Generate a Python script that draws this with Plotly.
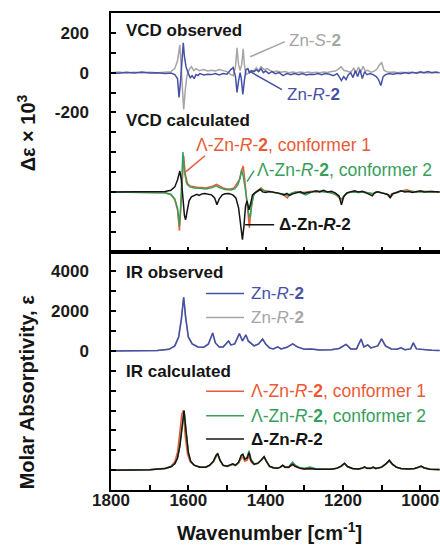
import plotly.graph_objects as go

# ---------------- data ----------------
# VCD observed, Zn-R-2 (blue)
vcd_obs_R_w = [1800,1780,1760,1740,1720,1700,1680,1660,1645,1635,1628,1624,1620,1616,1613,1610,1606,1600,1595,1590,1585,1580,1575,1570,1560,1550,1540,1530,1520,1510,1500,1490,1484,1478,1474,1470,1466,1463,1459,1455,1451,1446,1442,1436,1430,1424,1418,1412,1406,1400,1392,1384,1375,1365,1355,1345,1335,1325,1315,1305,1295,1285,1275,1265,1255,1245,1235,1225,1215,1210,1204,1198,1192,1186,1180,1174,1168,1162,1156,1150,1144,1138,1130,1122,1114,1108,1102,1096,1090,1080,1070,1060,1050,1040,1030,1020,1010,1000,990,980,970,960,950]
vcd_obs_R_v = [0,-3,2,-2,3,-2,0,-4,-2,-10,-30,-125,-40,60,150,80,30,-5,-25,-15,-30,-10,-15,-5,-12,-8,-10,-5,-12,-5,-8,15,25,-20,-100,-40,0,-30,-110,-40,15,20,0,10,5,15,5,20,0,8,-5,5,-5,0,-15,-5,-10,-5,-10,-5,-12,-8,-10,-5,-10,-5,-8,-15,-5,-20,-40,-20,-35,-10,0,-25,10,-20,15,-30,5,-10,-5,-10,-20,-35,-65,-20,-10,-5,-8,-3,-6,0,-4,2,-3,4,-1,5,0,3,0]

# VCD observed, Zn-S-2 (gray)
vcd_obs_S_w = [1800,1780,1760,1740,1720,1700,1680,1660,1645,1635,1628,1622,1618,1615,1612,1608,1604,1598,1592,1586,1580,1572,1560,1550,1540,1530,1520,1510,1500,1490,1484,1478,1474,1470,1466,1462,1458,1455,1451,1446,1440,1432,1424,1418,1412,1404,1396,1388,1380,1370,1360,1350,1340,1330,1320,1310,1300,1290,1280,1270,1260,1250,1240,1230,1220,1212,1205,1198,1190,1180,1172,1166,1160,1154,1148,1142,1136,1128,1120,1112,1106,1100,1094,1088,1078,1068,1058,1048,1038,1028,1018,1008,998,988,978,968,958,950]
vcd_obs_S_v = [0,3,-2,2,-2,2,0,4,5,20,60,140,30,-60,-185,-90,-20,15,30,10,20,10,15,8,12,8,15,10,5,-10,-15,30,125,40,10,40,120,40,-10,-5,10,5,25,10,30,15,20,10,5,8,2,5,0,3,0,3,0,3,0,2,0,3,1,6,8,18,30,12,6,2,22,-2,28,2,32,8,12,2,6,18,38,50,12,5,2,3,0,2,0,2,-1,1,-1,1,-2,1,-1,0]

# VCD calculated (relative to their own baseline)
vcd_calc_D_w = [1800,1700,1660,1645,1635,1628,1622,1618,1614,1610,1607,1603,1598,1592,1585,1578,1572,1565,1558,1550,1540,1532,1526,1520,1512,1505,1495,1485,1477,1470,1465,1460,1456,1452,1448,1443,1439,1434,1428,1420,1414,1408,1400,1390,1380,1370,1360,1352,1345,1338,1330,1320,1310,1300,1292,1280,1270,1260,1250,1240,1230,1220,1210,1204,1198,1190,1180,1170,1160,1150,1140,1130,1124,1118,1110,1100,1090,1082,1078,1072,1060,1050,1040,1030,1020,1010,1000,990,970,950]
vcd_calc_D_v = [0,0,2,8,25,60,105,60,-30,-120,-140,-90,-45,-25,-20,-12,-18,-10,-8,-12,-15,-30,-65,-35,-15,-10,-8,-15,-30,-80,-150,-240,-170,-70,-45,-90,-60,-15,-5,5,12,0,-3,2,0,-5,-10,-15,-8,-18,-10,-5,0,-8,-3,0,5,0,8,0,3,-5,-20,-65,-25,-5,0,5,0,3,-5,-15,-20,-5,0,-5,-10,-15,-30,-10,-3,5,0,2,-3,0,5,0,2,0]

vcd_calc_L1_w = [1800,1700,1660,1645,1635,1628,1623,1620,1616,1612,1608,1602,1595,1585,1575,1565,1555,1545,1535,1527,1520,1510,1500,1490,1482,1475,1468,1462,1458,1454,1450,1446,1442,1438,1432,1425,1418,1412,1405,1395,1385,1375,1362,1352,1344,1338,1328,1318,1305,1292,1280,1268,1255,1245,1230,1218,1210,1204,1198,1188,1175,1160,1145,1130,1122,1115,1100,1088,1080,1074,1060,1045,1035,1025,1010,995,975,950]
vcd_calc_L1_v = [0,-2,-5,-15,-40,-90,-195,-100,40,180,90,40,30,25,22,22,20,25,30,38,30,20,15,15,20,40,60,110,130,60,-20,-100,-180,-90,-20,0,10,20,8,5,0,-5,-10,-18,-30,-15,-5,0,-3,0,3,0,5,0,-5,-15,-30,-40,-20,-5,0,-3,0,-8,-12,0,-5,-10,-25,-10,0,8,10,5,0,3,0,0]

vcd_calc_L2_w = [1800,1700,1660,1645,1635,1628,1623,1620,1617,1614,1610,1604,1596,1585,1570,1555,1540,1528,1520,1505,1490,1480,1472,1466,1462,1458,1453,1448,1444,1440,1436,1430,1420,1412,1404,1390,1375,1360,1350,1342,1335,1322,1310,1296,1290,1280,1265,1250,1235,1220,1208,1202,1195,1185,1170,1150,1130,1122,1110,1095,1085,1078,1070,1058,1040,1020,1000,975,950]
vcd_calc_L2_v = [0,-2,-4,-12,-35,-80,-170,-80,60,200,100,40,25,20,18,15,20,30,22,12,10,15,35,70,110,80,20,-40,-110,-130,-60,-10,5,15,5,0,-3,-8,-12,-20,-8,0,-5,-15,-8,0,3,0,-3,-10,-30,-35,-15,-3,0,-2,-5,-8,0,-5,-12,-30,-10,0,5,2,0,2,0]

# IR observed, Zn-R-2
ir_obs_w = [1800,1680,1650,1635,1625,1618,1612,1607,1600,1590,1575,1560,1548,1537,1530,1520,1510,1500,1496,1490,1480,1468,1460,1451,1445,1430,1418,1408,1400,1390,1380,1369,1360,1345,1330,1318,1300,1283,1260,1230,1210,1192,1180,1165,1153,1146,1136,1128,1110,1100,1090,1075,1060,1050,1040,1025,1018,1010,990,970,950]
ir_obs_v = [0,20,80,250,700,1600,2700,1700,700,350,200,180,350,900,400,200,200,400,500,300,350,870,500,800,500,250,350,600,350,150,100,200,100,180,350,200,80,100,50,60,120,330,100,100,600,200,300,150,250,600,250,100,80,150,60,100,400,100,50,30,20]

# IR calculated
ir_calc_D_w = [1800,1700,1660,1645,1635,1628,1622,1616,1611,1606,1600,1594,1585,1570,1555,1545,1535,1528,1524,1518,1510,1500,1492,1485,1478,1470,1463,1459,1454,1448,1443,1438,1430,1420,1412,1404,1398,1390,1380,1370,1362,1356,1350,1340,1334,1330,1324,1312,1300,1285,1270,1250,1230,1215,1205,1196,1188,1175,1160,1150,1144,1138,1128,1122,1115,1100,1090,1080,1072,1062,1050,1030,1015,1005,998,990,975,950]
ir_calc_D_v = [0,20,80,170,320,600,1200,2300,3000,2000,900,450,250,150,150,250,450,750,840,500,250,200,250,320,250,400,750,800,550,600,880,500,300,350,500,680,450,200,120,100,150,250,150,150,250,300,200,100,60,80,50,40,50,100,200,350,180,80,60,100,160,90,90,150,80,150,300,500,300,150,80,60,80,150,200,120,50,30]

ir_calc_L1_w = [1800,1700,1660,1645,1635,1628,1622,1617,1613,1608,1602,1595,1585,1570,1555,1545,1535,1528,1524,1518,1510,1500,1492,1485,1478,1470,1463,1459,1454,1448,1443,1438,1430,1420,1412,1404,1398,1390,1380,1370,1362,1356,1350,1340,1334,1330,1324,1312,1300,1285,1270,1250,1230,1215,1205,1196,1188,1175,1160,1150,1144,1138,1128,1122,1115,1100,1090,1080,1072,1062,1050,1030,1015,1005,998,990,975,950]
ir_calc_L1_v = [0,25,90,200,420,900,1900,2800,3000,1700,800,420,250,150,140,230,420,700,800,480,230,180,220,280,230,350,600,650,450,500,700,420,280,330,480,650,430,180,110,90,140,220,130,130,220,260,180,90,50,70,45,35,45,90,180,320,160,70,50,90,140,80,80,130,70,140,280,450,280,140,70,50,70,130,180,100,45,25]

ir_calc_L2_w = [1800,1700,1660,1645,1635,1628,1622,1616,1611,1606,1600,1594,1585,1570,1555,1545,1535,1528,1524,1518,1510,1500,1492,1485,1478,1470,1463,1459,1454,1448,1443,1438,1430,1420,1412,1404,1398,1390,1380,1370,1362,1356,1350,1340,1334,1330,1324,1312,1300,1285,1270,1250,1230,1215,1205,1196,1188,1175,1160,1150,1144,1138,1128,1122,1115,1100,1090,1080,1072,1062,1050,1030,1015,1005,998,990,975,950]
ir_calc_L2_v = [0,20,80,170,330,620,1250,2350,3000,1950,880,440,250,150,150,240,440,730,820,490,240,190,240,300,240,380,720,780,560,650,980,550,320,340,480,660,440,190,120,100,150,250,160,170,320,400,260,130,100,150,70,40,50,100,190,330,170,80,60,100,150,90,90,150,80,150,290,480,290,150,80,60,80,140,190,110,50,30]

# axis ticks / offsets
x_tick_vals = [1800, 1600, 1400, 1200, 1000]
x_tick_text = ["1800", "1600", "1400", "1200", "1000"]
vcd_tick_vals = [-200, 0, 200]
vcd_tick_text = ["-200", "0", "200"]
ir_tick_vals = [0, 2000, 4000]
ir_tick_text = ["0", "2000", "4000"]
VCD_CALC_OFFSET = -600
IR_CALC_OFFSET = -6000

# ---------------- styling ----------------
BLUE = "#4650a6"
GRAY = "#a5a5a5"
RED = "#ea5a36"
GREEN = "#36a05a"
BLACK = "#151515"
FONT = "Liberation Sans, Arial, sans-serif"
LW = 1.5

fig = go.Figure()

def add(w, v, color, yaxis, offset=0):
    fig.add_trace(go.Scatter(
        x=w, y=[val + offset for val in v], mode="lines",
        line=dict(color=color, width=LW), xaxis="x" if yaxis == "y" else "x2",
        yaxis=yaxis, showlegend=False, hoverinfo="skip"))

# VCD
add(vcd_obs_S_w, vcd_obs_S_v, GRAY, "y")
add(vcd_obs_R_w, vcd_obs_R_v, BLUE, "y")
add(vcd_calc_L1_w, vcd_calc_L1_v, RED, "y", VCD_CALC_OFFSET)
add(vcd_calc_L2_w, vcd_calc_L2_v, GREEN, "y", VCD_CALC_OFFSET)
add(vcd_calc_D_w, vcd_calc_D_v, BLACK, "y", VCD_CALC_OFFSET)
# IR
add(ir_obs_w, ir_obs_v, GRAY, "y2")
add(ir_obs_w, ir_obs_v, BLUE, "y2")
add(ir_calc_L1_w, ir_calc_L1_v, RED, "y2", IR_CALC_OFFSET)
add(ir_calc_L2_w, ir_calc_L2_v, GREEN, "y2", IR_CALC_OFFSET)
add(ir_calc_D_w, ir_calc_D_v, BLACK, "y2", IR_CALC_OFFSET)

axis_common = dict(showline=True, linecolor="black", linewidth=1.5, ticks="inside",
                   ticklen=5, tickwidth=1.5, tickcolor="black", showgrid=False, zeroline=False,
                   tickfont=dict(family=FONT, size=17, color="#1a1a1a", weight="bold"))

x_range = [1800, 949]
fig.update_layout(
    width=440, height=546,
    margin=dict(l=111, r=0, t=13, b=56),
    paper_bgcolor="white", plot_bgcolor="white",
    xaxis=dict(axis_common, domain=[0, 1], anchor="y", range=x_range, mirror=True,
               tickmode="array", tickvals=x_tick_vals, ticktext=x_tick_text,
               showticklabels=False,
               minor=dict(tickmode="linear", tick0=1000, dtick=100, ticks="inside",
                          ticklen=5, tickwidth=1.5, tickcolor="black")),
    xaxis2=dict(axis_common, domain=[0, 1], anchor="y2", range=x_range, mirror=True,
                tickmode="array", tickvals=x_tick_vals, ticktext=x_tick_text,
                ticklabelstandoff=-6,
                minor=dict(tickmode="linear", tick0=1000, dtick=100, ticks="inside",
                           ticklen=5, tickwidth=1.5, tickcolor="black")),
    yaxis=dict(axis_common, domain=[0.5, 1], anchor="x", range=[-900, 300],
               tickmode="array", tickvals=vcd_tick_vals, ticktext=vcd_tick_text,
               ticklabelstandoff=17,
               minor=dict(tickmode="linear", tick0=0, dtick=100, ticks="inside",
                          ticklen=5, tickwidth=1.5, tickcolor="black")),
    yaxis2=dict(axis_common, domain=[0, 0.5], anchor="x2", range=[-7000, 5000],
                tickmode="array", tickvals=ir_tick_vals, ticktext=ir_tick_text,
                ticklabelstandoff=17,
                minor=dict(tickmode="linear", tick0=0, dtick=1000, ticks="inside",
                           ticklen=5, tickwidth=1.5, tickcolor="black")),
)

ann = []
def txt(x, y, text, color, size=17, bold=False, xref="x", yref="y", xanchor="left", angle=0):
    ann.append(dict(x=x, y=y, xref=xref, yref=yref, text=text, showarrow=False,
                    xanchor=xanchor, yanchor="middle", textangle=angle,
                    font=dict(family=FONT, size=size, color=color,
                              weight="bold" if bold else "normal")))

R2 = "Zn-<i>R</i>-<b>2</b>"
# VCD panel texts
txt(1766, 211, "VCD observed", BLACK, bold=True)
txt(1766, -241, "VCD calculated", BLACK, bold=True)
txt(1345, 161, "Zn-<i>S</i>-<b>2</b>", GRAY)
txt(1350, -111, R2, BLUE)
txt(1585, -362, "Λ-" + R2 + ", conformer 1", RED, size=17.5)
txt(1428, -488, "Λ-" + R2 + ", conformer 2", GREEN, size=17.5)
txt(1371, -765, "Δ-Zn-<i>R</i>-2", BLACK, bold=True)
# IR panel texts
txt(1766, 3930, "IR observed", BLACK, bold=True, xref="x2", yref="y2")
txt(1766, -1060, "IR calculated", BLACK, bold=True, xref="x2", yref="y2")
txt(1443, 2890, R2, BLUE, xref="x2", yref="y2")
txt(1443, 1680, R2, GRAY, xref="x2", yref="y2")
txt(1443, -2030, "Λ-" + R2 + ", conformer 1", RED, size=17.5, xref="x2", yref="y2")
txt(1443, -3260, "Λ-" + R2 + ", conformer 2", GREEN, size=17.5, xref="x2", yref="y2")
txt(1443, -4435, "Δ-Zn-<i>R</i>-2", BLACK, bold=True, xref="x2", yref="y2")
# axis titles
txt(0.483, -0.088, "Wavenumber [cm<sup>-1</sup>]", BLACK, size=20, bold=True,
    xref="paper", yref="paper", xanchor="center")
txt(-0.258, 0.748, "Δε × 10<sup>3</sup>", BLACK, size=20, bold=True,
    xref="paper", yref="paper", xanchor="center", angle=-90)
txt(-0.255, 0.205, "Molar Absorptivity, ε", BLACK, size=20, bold=True,
    xref="paper", yref="paper", xanchor="center", angle=-90)
fig.update_layout(annotations=ann)

shapes = []
def seg(x0, y0, x1, y1, color, xref="x", yref="y"):
    shapes.append(dict(type="line", x0=x0, y0=y0, x1=x1, y1=y1, xref=xref, yref=yref,
                       line=dict(color=color, width=1.5)))

# leader lines (VCD)
seg(1440, 80, 1350, 156, GRAY)
seg(1440, 5, 1358, -86, BLUE)
seg(1606, -498, 1557, -418, RED)
seg(1448, -548, 1430, -493, GREEN)
seg(1453, -765, 1378, -765, BLACK)
# legend lines (IR)
seg(1554, 2890, 1456, 2890, BLUE, "x2", "y2")
seg(1554, 1680, 1456, 1680, GRAY, "x2", "y2")
seg(1554, -2030, 1456, -2030, RED, "x2", "y2")
seg(1554, -3260, 1456, -3260, GREEN, "x2", "y2")
seg(1554, -4435, 1456, -4435, BLACK, "x2", "y2")
fig.update_layout(shapes=shapes)

fig.write_html("out.html")
